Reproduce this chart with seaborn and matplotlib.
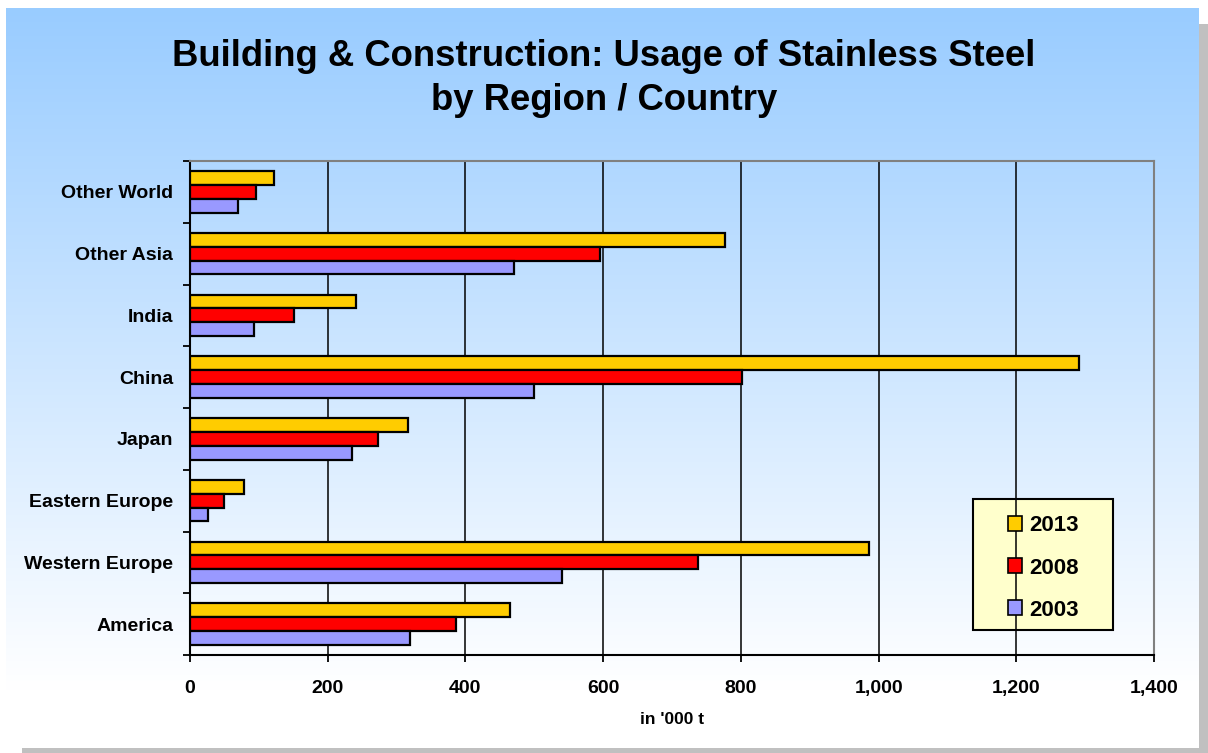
import numpy as np
import pandas as pd
import matplotlib
matplotlib.use("Agg")
import matplotlib.pyplot as plt
from matplotlib.patches import Rectangle, Patch
from matplotlib.ticker import StrMethodFormatter
import seaborn as sns

# ---- data (thousand tonnes) ----
regions = ["Other World", "Other Asia", "India", "China", "Japan",
           "Eastern Europe", "Western Europe", "America"]
years = ["2013", "2008", "2003"]
usage_2013 = [122, 777, 241, 1291, 317, 78, 986, 465]
usage_2008 = [96, 595, 151, 801, 273, 49, 738, 386]
usage_2003 = [70, 470, 93, 500, 235, 26, 540, 319]
x_ticks = [0, 200, 400, 600, 800, 1000, 1200, 1400]
colors = {"2013": "#FFCC00", "2008": "#FF0000", "2003": "#9999FF"}
title_lines = ["Building & Construction: Usage of Stainless Steel",
               "by Region / Country"]

df = pd.DataFrame({
    "region": regions * 3,
    "year": ["2013"] * 8 + ["2008"] * 8 + ["2003"] * 8,
    "value": usage_2013 + usage_2008 + usage_2003,
})

plt.rcParams["font.family"] = ["Liberation Sans", "DejaVu Sans"]
plt.rcParams["font.weight"] = "bold"

W, H = 1208, 753
fig = plt.figure(figsize=(W / 100, H / 100), dpi=100)
fig.patch.set_facecolor("white")

# ---- background: drop shadow + vertical blue-to-white gradient ----
bg = fig.add_axes([0, 0, 1, 1], zorder=-10)
bg.set_xlim(0, W)
bg.set_ylim(H, 0)
bg.axis("off")
bg.add_patch(Rectangle((22, 24), W - 22, H - 24, facecolor="#C0C0C0",
                       edgecolor="none"))
top = np.array([0x99, 0xCC, 0xFF]) / 255.0
bottom = np.array([1.0, 1.0, 1.0])
t = np.clip(np.linspace(0, 1, 400) / 0.92, 0, 1)[:, None]
grad = (top * (1 - t) + bottom * t)[:, None, :]
bg.imshow(grad, extent=(6, 1199, 748, 8), aspect="auto", zorder=1)

# ---- main plot ----
ax = fig.add_axes([190 / W, 1 - 655 / H, (1154 - 190) / W, (655 - 161) / H])
ax.patch.set_alpha(0)

sns.barplot(data=df, x="value", y="region", hue="year", order=regions,
            hue_order=years, palette=colors, saturation=1, orient="h",
            width=0.67, gap=0, edgecolor="black", linewidth=1.6,
            legend=False, ax=ax, zorder=3)

ax.set_xlim(0, 1400)
ax.set_ylim(len(regions) - 0.5, -0.5)
ax.set_xticks(x_ticks)
ax.xaxis.set_major_formatter(StrMethodFormatter("{x:,.0f}"))
ax.set_yticks(np.arange(-0.5, len(regions), 1), minor=True)
ax.tick_params(axis="y", which="major", length=0, pad=12, labelsize=14)
ax.tick_params(axis="y", which="minor", length=5, width=1.3, direction="out")
ax.tick_params(axis="x", which="major", length=5, width=1.3, direction="out",
               pad=13, labelsize=14)
for lab in ax.get_xticklabels() + ax.get_yticklabels():
    lab.set_fontweight("bold")

ax.grid(axis="x", color="black", linewidth=1.1, zorder=1)
ax.set_axisbelow(True)
ax.set_ylabel("")
ax.set_xlabel("in '000 t", fontsize=12.5, fontweight="bold", labelpad=11)

for side in ("left", "bottom"):
    ax.spines[side].set_color("black")
    ax.spines[side].set_linewidth(1.5)
for side in ("top", "right"):
    ax.spines[side].set_color("#808080")
    ax.spines[side].set_linewidth(1.5)

# ---- title (two centred lines) ----
for line, ypix in zip(title_lines, (57, 101)):
    fig.text(0.5, 1 - ypix / H, line, ha="center", va="center",
             fontsize=26.3, fontweight="bold")

# ---- legend ----
bg.add_patch(Rectangle((973, 499), 140, 131, facecolor="#FFFFCC",
                       edgecolor="black", linewidth=1.5, zorder=20))
handles = [Patch(facecolor=colors[y], edgecolor="black", linewidth=1.2)
           for y in years]
leg = fig.legend(handles, years, loc="center",
                 bbox_to_anchor=((973 + 70) / W, 1 - 568 / H),
                 frameon=False, handlelength=0.65,
                 handleheight=0.65, handletextpad=0.3, labelspacing=0.95,
                 prop={"weight": "bold", "size": 16})
leg.set_zorder(30)

fig.savefig("out.png", dpi=100, facecolor=fig.get_facecolor())
